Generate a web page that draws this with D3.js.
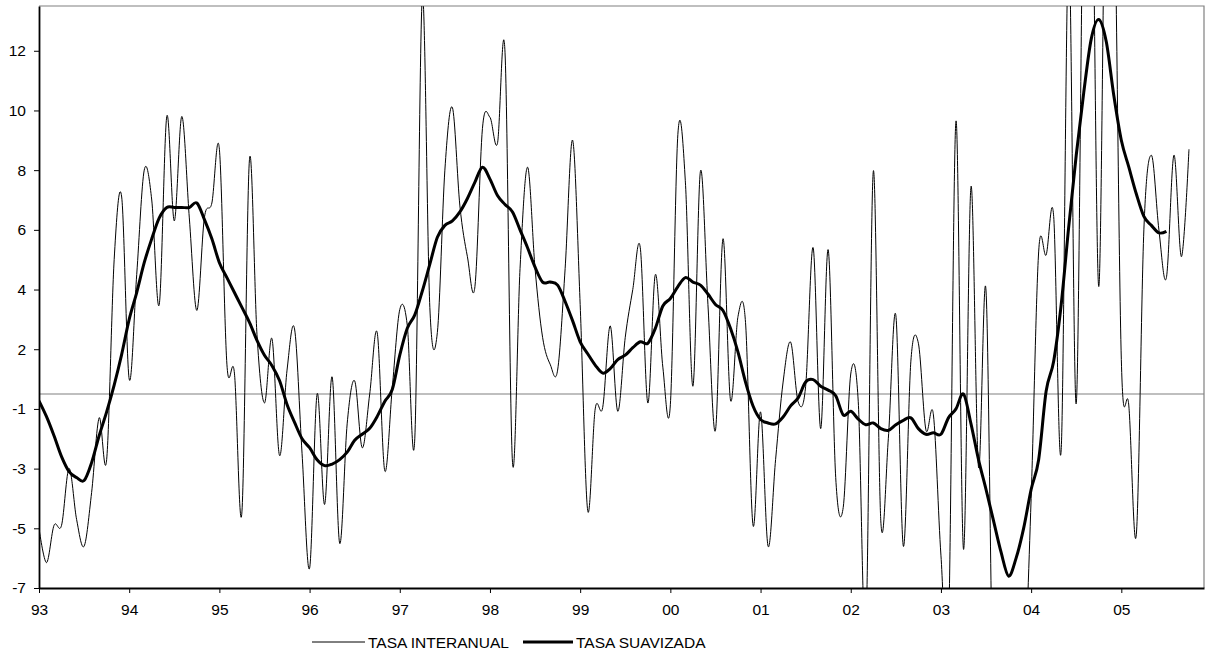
<!DOCTYPE html>
<html>
<head>
    <title>Tasa interanual y tasa suavizada</title>
    <script src="https://d3js.org/d3.v7.min.js"></script>
    <style>
        body { margin: 0; background: #fff; }
        svg { display: block; font-family: "Liberation Sans", Arial, sans-serif; }
        .tick text { font-size: 15.5px; fill: #000; }
        .legend-text { font-size: 15.5px; }
    </style>
</head>
<body>
    <div id="chart"></div>

    <script>
        // Monthly values, starting January 1993
        const interanual = [
            -4.5, -5.65, -4.4, -4.4, -2.5, -4.2, -5.1, -3.3, -0.8, -2.2, 4.5, 6.6,
            0.5, 4.0, 7.5, 6.5, 3.0, 9.3, 5.8, 9.3, 5.9, 2.8, 5.9, 6.4,
            8.2, 1.0, 0.7, -3.95, 7.85, 2.0, -0.3, 1.85, -2.06, 0.8, 2.18, -2.0,
            -5.84, 0.0, -3.7, 0.57, -5.0, -1.0, 0.44, -1.8, 0.0, 2.05, -2.57, 0.2,
            2.83, 2.3, -1.48, 13.3, 2.9, 2.06, 7.5, 9.6, 6.3, 4.6, 3.6, 8.9,
            9.27, 8.4, 11.45, -2.3, 4.2, 7.6, 4.2, 1.9, 1.0, 0.8, 4.2, 8.5,
            3.0, -3.9, -0.5, -0.45, 2.28, -0.58, 1.9, 3.5, 4.9, -0.3, 4.0, 0.9,
            -0.36, 8.7, 7.1, 0.26, 7.46, 3.0, -1.22, 5.2, -0.2, 2.6, 2.4, -4.4,
            -0.6, -5.1, -2.2, 0.4, 1.74, -0.26, 0.26, 4.9, -1.16, 4.83, -2.8, -3.8,
            0.67, -0.26, -8.0, 7.46, -4.25, -1.5, 2.64, -5.1, 1.1, 1.7, -1.2, -0.7,
            -5.4, -8.0, 9.14, -5.2, 6.95, -2.45, 3.45, -11.0, -12.0, -12.0, -11.0, -10.0,
            -3.5, 4.76, 4.66, 5.95, -1.87, 15.0, -0.32, 18.0, 20.0, 3.6, 20.0, 18.0,
            1.16, -0.4, -4.7, 5.5, 8.0, 5.5, 3.9, 8.0, 4.6, 8.2
        ];

        const suavizada = [
            -0.23, -0.76, -1.4, -2.1, -2.6, -2.8, -2.9, -2.3, -1.4, -0.6, 0.3, 1.33,
            2.5, 3.4, 4.4, 5.2, 5.9, 6.25, 6.25, 6.25, 6.25, 6.4, 5.85, 5.2,
            4.4, 3.9, 3.4, 2.9, 2.4, 1.8, 1.3, 0.95, 0.45, -0.35, -0.95, -1.5,
            -1.8, -2.2, -2.4, -2.35, -2.2, -1.95, -1.55, -1.35, -1.15, -0.75, -0.25, 0.15,
            1.3, 2.2, 2.65, 3.45, 4.35, 5.25, 5.65, 5.8, 6.1, 6.55, 7.1, 7.6,
            7.2, 6.65, 6.35, 6.1, 5.5, 4.9, 4.25, 3.75, 3.75, 3.65, 3.1, 2.45,
            1.75, 1.35, 0.97, 0.7, 0.85, 1.15, 1.3, 1.55, 1.75, 1.7, 2.2, 2.95,
            3.2, 3.6, 3.9, 3.75, 3.65, 3.35, 3.0, 2.8, 2.2, 1.4, 0.4, -0.4,
            -0.85, -0.97, -1.0, -0.77, -0.4, -0.13, 0.4, 0.48, 0.26, 0.13, -0.06, -0.7,
            -0.58, -0.84, -1.03, -0.97, -1.16, -1.22, -1.03, -0.88, -0.8, -1.16, -1.35, -1.3,
            -1.35, -0.8, -0.5, 0.0, -1.0, -2.2, -3.2, -4.25, -5.3, -6.1, -5.5, -4.5,
            -3.2, -2.2, 0.1, 1.1, 3.0, 5.6, 8.0, 10.1, 11.9, 12.55, 11.8, 10.0,
            8.5, 7.6, 6.7, 5.95, 5.65, 5.4, 5.45
        ];

        const seriesNames = ["TASA INTERANUAL", "TASA SUAVIZADA"];
        const xTickLabels = ["93", "94", "95", "96", "97", "98", "99", "00", "01", "02", "03", "04", "05"];
        const yTickValues = [-6.5, -4.5, -2.5, -0.5, 1.5, 3.5, 5.5, 7.5, 9.5, 11.5];
        const yTickLabels = ["-7", "-5", "-3", "-1", "2", "4", "6", "8", "10", "12"];

        const config = {
            width: 1206,
            height: 659,
            plot: { left: 39, right: 1204, top: 6, bottom: 588 },
            monthCount: 156
        };

        const svg = d3.select("#chart")
            .append("svg")
            .attr("width", config.width)
            .attr("height", config.height);

        const xScale = d3.scaleLinear()
            .domain([0, config.monthCount - 1])
            .range([config.plot.left, config.plot.right]);

        const yScale = d3.scaleLinear()
            .domain([-6.5, 13])
            .range([config.plot.bottom, config.plot.top]);

        svg.append("clipPath")
            .attr("id", "plot-clip")
            .append("rect")
            .attr("x", config.plot.left)
            .attr("y", config.plot.top)
            .attr("width", config.plot.right - config.plot.left)
            .attr("height", config.plot.bottom - config.plot.top);

        // gray frame on top and right
        svg.append("path")
            .attr("d", `M${config.plot.left},${config.plot.top}H${config.plot.right}V${config.plot.bottom}`)
            .attr("fill", "none")
            .attr("stroke", "#808080")
            .attr("stroke-width", 1.2);

        // zero line
        svg.append("line")
            .attr("x1", config.plot.left)
            .attr("x2", config.plot.right)
            .attr("y1", yScale(0))
            .attr("y2", yScale(0))
            .attr("stroke", "#808080")
            .attr("stroke-width", 1.2);

        const lineGenerator = d3.line()
            .x((d, i) => xScale(i))
            .y(d => yScale(d))
            .curve(d3.curveCardinal.tension(0));

        const lines = svg.append("g").attr("clip-path", "url(#plot-clip)");

        lines.append("path")
            .attr("d", lineGenerator(interanual))
            .attr("fill", "none")
            .attr("stroke", "#000")
            .attr("stroke-width", 1);

        lines.append("path")
            .attr("d", lineGenerator(suavizada))
            .attr("fill", "none")
            .attr("stroke", "#000")
            .attr("stroke-width", 3)
            .attr("stroke-linejoin", "round");

        // axes
        const yAxis = svg.append("g")
            .attr("transform", `translate(${config.plot.left},0)`)
            .call(d3.axisLeft(yScale)
                .tickValues(yTickValues)
                .tickFormat((d, i) => yTickLabels[i])
                .tickSizeInner(5)
                .tickSizeOuter(0)
                .tickPadding(8));

        const xAxis = svg.append("g")
            .attr("transform", `translate(0,${config.plot.bottom})`)
            .call(d3.axisBottom(xScale)
                .tickValues(xTickLabels.map((d, i) => i * 12))
                .tickFormat((d, i) => xTickLabels[i])
                .tickSizeInner(5)
                .tickSizeOuter(0)
                .tickPadding(11));

        [yAxis, xAxis].forEach(axis => {
            axis.select(".domain").attr("stroke", "#000").attr("stroke-width", 1.8);
            axis.selectAll(".tick line").attr("stroke", "#000");
            axis.attr("font-family", null).attr("font-size", null);
        });

        // legend
        const legendItems = [
            { name: seriesNames[0], x1: 312, x2: 365, width: 1 },
            { name: seriesNames[1], x1: 523, x2: 573, width: 3 }
        ];
        const legendY = 642;
        const legend = svg.append("g");
        legend.selectAll("line")
            .data(legendItems)
            .join("line")
            .attr("x1", d => d.x1)
            .attr("x2", d => d.x2)
            .attr("y1", legendY)
            .attr("y2", legendY)
            .attr("stroke", "#000")
            .attr("stroke-width", d => d.width);
        legend.selectAll("text")
            .data(legendItems)
            .join("text")
            .attr("class", "legend-text")
            .attr("x", d => d.x2 + 3)
            .attr("y", legendY + 5.5)
            .text(d => d.name);
    </script>
</body>
</html>
